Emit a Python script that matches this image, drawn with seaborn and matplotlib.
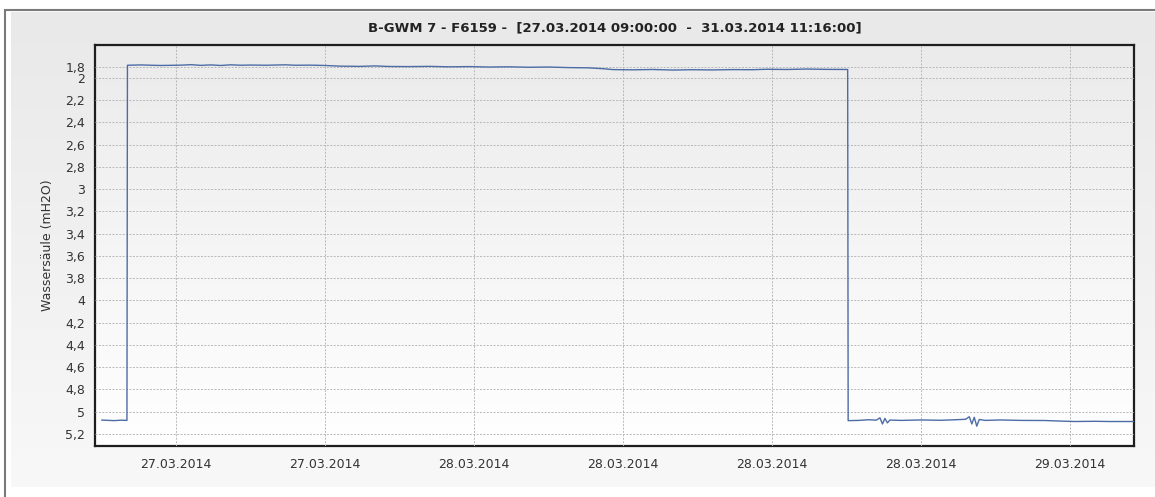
import numpy as np
import pandas as pd
import seaborn as sns
import matplotlib.pyplot as plt
import matplotlib.dates as mdates
from matplotlib.ticker import FixedLocator, MultipleLocator

# hours after 27.03.2014 00:00 and water column readings (mH2O)
hours = [9.00, 9.50, 9.80, 10.02, 10.04, 10.6, 11.0, 11.4, 12.2, 12.6, 13.0, 13.4,
         13.8, 14.2, 14.6, 15.0, 15.6, 16.4, 16.8, 17.4, 18.0, 18.6, 19.4, 20.0,
         20.6, 21.4, 22.2, 23.0, 23.8, 24.6, 25.4, 26.2, 27.0, 27.8, 28.6, 29.2,
         29.6, 30.4, 31.2, 32.0, 32.8, 33.6, 34.4, 35.2, 35.8, 36.6, 37.4, 38.2,
         39.05, 39.07, 39.5, 39.9, 40.2, 40.35, 40.45, 40.55, 40.65, 40.75, 41.2,
         42.0, 42.8, 43.4, 43.8, 43.95, 44.05, 44.15, 44.25, 44.35, 44.6, 45.2,
         46.0, 47.0, 47.6, 48.2, 49.0, 49.6, 50.6]
level = [5.075, 5.080, 5.076, 5.078, 1.887, 1.884, 1.887, 1.889, 1.886, 1.882, 1.888, 1.884,
         1.889, 1.883, 1.887, 1.885, 1.887, 1.883, 1.887, 1.886, 1.889, 1.895, 1.897, 1.893,
         1.898, 1.899, 1.897, 1.901, 1.899, 1.903, 1.901, 1.905, 1.903, 1.908, 1.910, 1.918,
         1.926, 1.928, 1.925, 1.930, 1.927, 1.929, 1.926, 1.927, 1.923, 1.925, 1.921, 1.924,
         1.925, 5.080, 5.078, 5.072, 5.076, 5.055, 5.110, 5.060, 5.100, 5.075, 5.078,
         5.074, 5.077, 5.072, 5.068, 5.045, 5.110, 5.050, 5.130, 5.070, 5.078, 5.074,
         5.078, 5.079, 5.084, 5.088, 5.086, 5.088, 5.088]

ytick_vals = [1.9, 2.0, 2.2, 2.4, 2.6, 2.8, 3.0, 3.2, 3.4, 3.6, 3.8, 4.0, 4.2, 4.4, 4.6, 4.8, 5.0, 5.2]
ytick_labels = ['1,8', '2', '2,2', '2,4', '2,6', '2,8', '3', '3,2', '3,4', '3,6', '3,8',
                '4', '4,2', '4,4', '4,6', '4,8', '5', '5,2']

title = 'B-GWM 7 - F6159 -  [27.03.2014 09:00:00  -  31.03.2014 11:16:00]'

df = pd.DataFrame({
    'time': pd.Timestamp('2014-03-27') + pd.to_timedelta(hours, unit='h'),
    'level': level,
})

sns.set_style('white')
plt.rcParams['font.family'] = ['DejaVu Sans']

W, H = 1155, 497
fig = plt.figure(figsize=(W / 100, H / 100), dpi=100, facecolor='white')

# outer panel with soft gradient and grey border
bg = fig.add_axes([0, 0, 1, 1], zorder=-5)
bg.set_xlim(0, W)
bg.set_ylim(H, 0)
bg.axis('off')
grad = np.linspace(0, 1, 256).reshape(-1, 1)
bg.imshow(grad, cmap=plt.matplotlib.colors.LinearSegmentedColormap.from_list('p', ['#e9e9e9', '#f8f8f8']),
          extent=[11, W, 487, 12], aspect='auto', interpolation='bilinear')
bg.plot([5, 5], [10, H], color='#7a7a7a', lw=1.5)
bg.plot([5, W], [10, 10], color='#7a7a7a', lw=1.5)

ax = fig.add_axes([95 / W, 1 - 446 / H, (1134 - 95) / W, (446 - 45) / H])
ax.imshow(grad, cmap=plt.matplotlib.colors.LinearSegmentedColormap.from_list('a', ['#ebebeb', '#ffffff']),
          extent=[0, 1, 0, 1], transform=ax.transAxes, aspect='auto', zorder=0, interpolation='bilinear')

sns.lineplot(data=df, x='time', y='level', ax=ax, color='#4d6ca6', linewidth=1.0, zorder=3)

ax.set_xlim(pd.Timestamp('2014-03-27 08:44'), pd.Timestamp('2014-03-29 02:35'))
ax.set_ylim(5.308, 1.705)

ax.yaxis.set_major_locator(FixedLocator(ytick_vals))
ax.set_yticklabels(ytick_labels)
ax.yaxis.set_minor_locator(MultipleLocator(0.05))
ax.xaxis.set_major_locator(MultipleLocator(0.25))
ax.xaxis.set_minor_locator(MultipleLocator(0.0625))
ax.xaxis.set_major_formatter(mdates.DateFormatter('%d.%m.%Y'))

ax.tick_params(axis='both', which='major', direction='out', length=4, width=0.8,
               color='#555555', labelsize=9, labelcolor='#333333', pad=3)
ax.tick_params(axis='y', which='minor', direction='out', length=2, width=0.6, color='#777777')
ax.tick_params(axis='x', which='minor', direction='out', length=4, width=0.8, color='#777777')
ax.tick_params(axis='x', which='major', pad=5)

ax.grid(True, which='major', color='#b8b8b8', linestyle=(0, (2, 1.5)), linewidth=0.7, zorder=1)
ax.set_axisbelow(False)
for s in ax.spines.values():
    s.set_color('#1e1e1e')
    s.set_linewidth(1.6)

ax.set_xlabel('')
ax.set_ylabel('Wassersäule (mH2O)', fontsize=9, color='#333333', labelpad=8)
ax.set_title(title, fontsize=9.5, fontweight='bold', color='#222222', pad=10)

fig.savefig('out.png', dpi=100, facecolor='white')
